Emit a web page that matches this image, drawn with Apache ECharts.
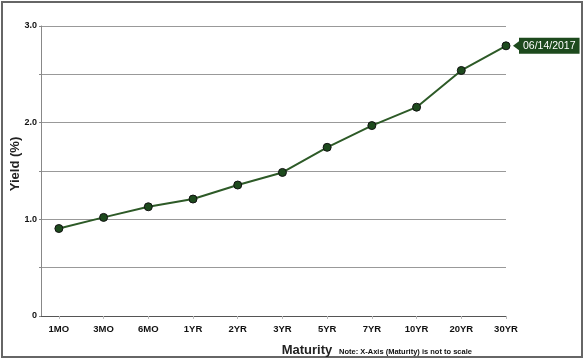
<!DOCTYPE html>
<html><head><meta charset="utf-8">
<script src="https://cdn.jsdelivr.net/npm/echarts@6/dist/echarts.min.js"></script>
<style>html,body{margin:0;padding:0;background:#fff}#c{width:585px;height:361px}</style>
</head><body><div id="c"></div>
<script>
const categories = ['1MO','3MO','6MO','1YR','2YR','3YR','5YR','7YR','10YR','20YR','30YR'];
const yields = [0.905, 1.02, 1.13, 1.21, 1.355, 1.485, 1.745, 1.97, 2.16, 2.54, 2.795];
const seriesName = '06/14/2017';
const yTicks = [0, 0.5, 1, 1.5, 2, 2.5, 3];

const F = '"Liberation Sans", Arial, sans-serif';
const idx = categories.map((c, i) => i);
const lineData = yields.map((v, i) => [i, v]);
const last = lineData[lineData.length - 1];

const chart = echarts.init(document.getElementById('c'), null, {renderer: 'canvas'});
chart.setOption({
  animation: false,
  grid: {left: 41, right: 79, top: 26, bottom: 45},
  xAxis: {
    type: 'value', min: -0.4, max: 10,
    axisLine: {show: true, onZero: false, lineStyle: {color: '#555', width: 1}},
    axisTick: {show: true, customValues: idx, length: 3, lineStyle: {color: '#bbb'}},
    axisLabel: {customValues: idx, formatter: v => categories[Math.round(v)] || '',
      color: '#111', fontFamily: F, fontWeight: 'bold', fontSize: 9.5, margin: 8},
    splitLine: {show: false}
  },
  yAxis: {
    type: 'value', min: 0, max: 3, interval: 0.5,
    axisLine: {show: true, onZero: false, lineStyle: {color: '#888'}},
    axisTick: {show: true, length: 2, lineStyle: {color: '#888'}},
    axisLabel: {formatter: v => (Math.abs(v % 1) > 1e-9 ? '' : (v === 0 ? '0' : v.toFixed(1))),
      color: '#111', fontFamily: F, fontWeight: 'bold', fontSize: 9, margin: 4},
    splitLine: {show: true, lineStyle: {color: '#999', width: 1}}
  },
  series: [
    {
      type: 'line', name: seriesName, data: lineData,
      lineStyle: {color: '#2d5a27', width: 2},
      symbol: 'circle', symbolSize: 8,
      itemStyle: {color: '#1d4a1d', borderColor: '#111', borderWidth: 1},
      z: 3
    },
    {
      type: 'scatter', data: [last], symbol: 'triangle', symbolRotate: 90,
      symbolSize: [9, 6], symbolOffset: [10, 0],
      itemStyle: {color: '#1d4a1d', opacity: 1},
      label: {show: true, position: 'right', distance: 0, formatter: seriesName,
        color: '#fff', backgroundColor: '#1d4a1d', fontFamily: F, fontSize: 10.5,
        padding: [3, 4, 2, 4]},
      silent: true, z: 2
    }
  ],
  graphic: [
    {type: 'rect', shape: {x: 2, y: 2, width: 580, height: 355},
      style: {fill: null, stroke: '#666', lineWidth: 2}, silent: true},
    {type: 'text', x: 15, y: 164, rotation: Math.PI / 2,
      style: {text: 'Yield (%)', font: 'bold 13px ' + F, fill: '#222', align: 'center', verticalAlign: 'middle'}},
    {type: 'text', x: 307, y: 350,
      style: {text: 'Maturity', font: 'bold 13px ' + F, fill: '#222', align: 'center', verticalAlign: 'middle'}},
    {type: 'text', x: 339, y: 352,
      style: {text: 'Note: X-Axis (Maturity) is not to scale', font: 'bold 7.5px ' + F, fill: '#111', align: 'left', verticalAlign: 'middle'}}
  ]
});
</script>
</body></html>
